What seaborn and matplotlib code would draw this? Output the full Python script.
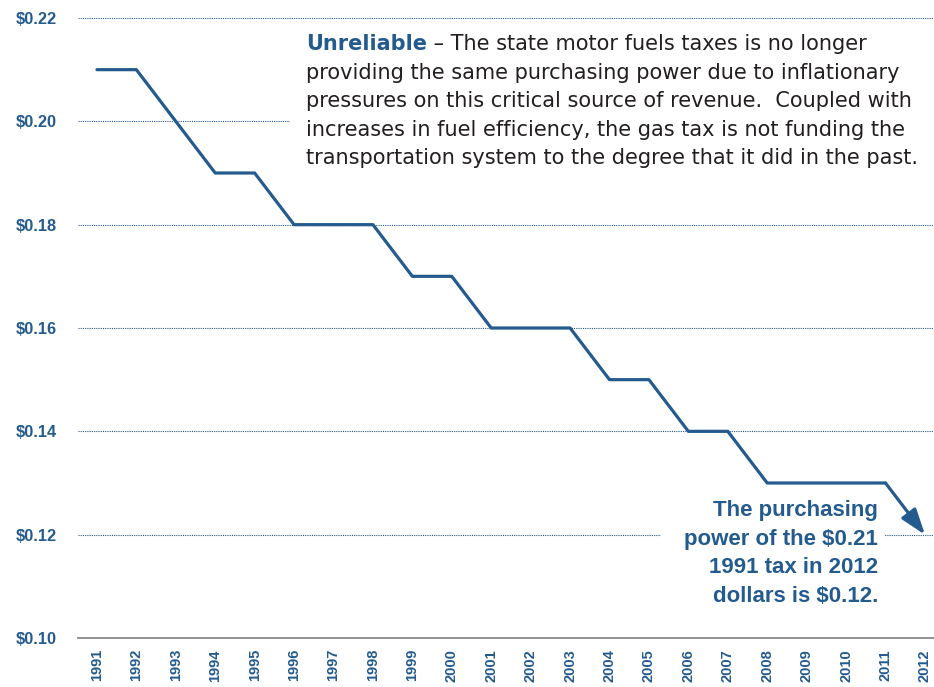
import matplotlib
matplotlib.use("Agg")
import matplotlib.pyplot as plt
from matplotlib.patches import Rectangle
import pandas as pd
import seaborn as sns

# Data: 1991 state fuel tax in constant dollars
years = list(range(1991, 2013))
values = [0.21, 0.21, 0.20, 0.19, 0.19, 0.18, 0.18, 0.18, 0.17, 0.17, 0.16,
          0.16, 0.16, 0.15, 0.15, 0.14, 0.14, 0.13, 0.13, 0.13, 0.13, 0.12]
y_ticks = [0.10, 0.12, 0.14, 0.16, 0.18, 0.20, 0.22]

df = pd.DataFrame({"year": years, "value": values})

blue = "#245b8f"
note_font = ["DejaVu Sans"]

sns.set_theme(style="white")
plt.rcParams["font.family"] = ["Liberation Sans", "DejaVu Sans"]

fig = plt.figure(figsize=(9.34, 6.87), dpi=100)
ax = fig.add_axes([78 / 934, 1 - 638 / 687, 1 - 78 / 934, (638 - 18) / 687])


def py_to_val(py):
    # pixel row in the figure -> data value on the y axis
    return 0.22 - (py - 18) / 620 * 0.12


# line up to 2011, last step drawn as an arrow
sns.lineplot(data=df[df["year"] <= 2011], x="year", y="value", color=blue,
             linewidth=2.3, ax=ax, zorder=4)
ax.annotate("", xy=(years[-1], values[-1]), xytext=(years[-2], values[-2]),
            arrowprops=dict(arrowstyle="-|>,head_length=1.3,head_width=0.45",
                            color=blue, lw=2.3, shrinkA=0, shrinkB=0),
            zorder=4)

ax.set_xlim(1990.52, 2012.23)
ax.set_ylim(0.10, 0.22)
ax.set_xticks(years)
ax.set_xticklabels([str(y) for y in years], rotation=90, fontsize=10.5,
                   fontweight="bold", color=blue)
ax.set_yticks(y_ticks)
ax.set_yticklabels(["$%.2f" % v for v in y_ticks], fontsize=11.8,
                   fontweight="bold", color=blue)
ax.tick_params(axis="y", length=0, pad=15)
ax.tick_params(axis="x", length=0, pad=8)
ax.set_xlabel("")
ax.set_ylabel("")

# dotted gridlines
for v in y_ticks[1:]:
    ax.axhline(v, color=blue, linestyle=(0, (1, 1)), linewidth=0.8, zorder=1)

for s in ["top", "left", "right"]:
    ax.spines[s].set_visible(False)
ax.spines["bottom"].set_color("#888888")
ax.spines["bottom"].set_linewidth(1.3)

# white panels behind the text blocks
ax.add_patch(Rectangle((1995.9, 0.1975), 17, 0.021, facecolor="white",
                       edgecolor="none", zorder=2))
ax.add_patch(Rectangle((2005.3, 0.1135), 5.65, 0.013, facecolor="white",
                       edgecolor="none", zorder=2))

# main note
x0 = 1996.30
t1 = ax.text(x0, py_to_val(50), "Unreliable", fontsize=15,
             fontweight="bold", color=blue, va="baseline", zorder=5,
             family=note_font)
ax.annotate(" \u2013 The state motor fuels taxes is no longer", xy=(1, 0),
            xycoords=t1, va="bottom", fontsize=15, color="#231f20", zorder=5,
            family=note_font)
note_lines = [
    "providing the same purchasing power due to inflationary",
    "pressures on this critical source of revenue.  Coupled with",
    "increases in fuel efficiency, the gas tax is not funding the",
    "transportation system to the degree that it did in the past.",
]
for i, line in enumerate(note_lines):
    ax.text(x0, py_to_val(79 + i * 28.4), line, fontsize=15,
            color="#231f20", va="baseline", zorder=5, family=note_font)

# bottom right callout
call_lines = ["The purchasing", "power of the $0.21", "1991 tax in 2012",
              "dollars is $0.12."]
for i, line in enumerate(call_lines):
    ax.text(2010.81, py_to_val(516 + i * 28.6), line, fontsize=16,
            fontweight="bold", color=blue, ha="right", va="baseline", zorder=5)

fig.savefig("out.png", dpi=100)
